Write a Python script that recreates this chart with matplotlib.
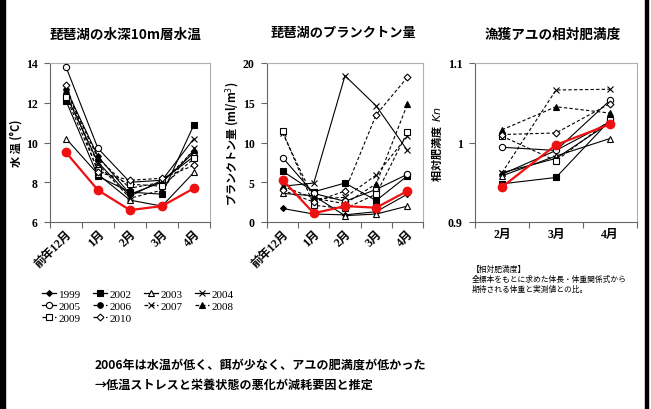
import matplotlib.pyplot as plt
from matplotlib.lines import Line2D
from matplotlib.patches import Rectangle

plt.rcParams['font.family'] = ['Noto Sans CJK JP', 'DejaVu Sans']

SERIF = ['Liberation Serif', 'Noto Sans CJK JP']
GOTHIC = ['Noto Sans CJK JP', 'DejaVu Sans']

years = ['1999', '2002', '2003', '2004', '2005', '2006', '2007', '2008', '2009', '2010']

months_temp = ['前年12月', '1月', '2月', '3月', '4月']
months_kn = ['2月', '3月', '4月']

# water temperature at 10 m depth (deg C)
temp = {
    '1999': [12.7, 9.3, 7.4, 8.0, 9.5],
    '2002': [12.1, 8.3, 7.5, 7.4, 10.9],
    '2003': [10.2, 8.4, 7.1, 6.8, 8.5],
    '2004': [12.4, 9.0, 7.3, 8.1, 10.2],
    '2005': [13.8, 9.7, 8.0, 8.1, 9.3],
    '2006': [9.5, 7.6, 6.6, 6.8, 7.7],
    '2007': [12.5, 8.9, 7.2, 7.6, 9.7],
    '2008': [12.6, 9.2, 7.7, 8.0, 9.6],
    '2009': [12.3, 8.6, 7.9, 7.8, 9.2],
    '2010': [12.9, 8.5, 8.1, 8.2, 8.85],
}

# plankton volume (ml/m3)
plankton = {
    '1999': [1.7, 1.0, 0.9, 1.3, 3.5],
    '2002': [6.4, 3.8, 4.9, 2.7, 5.8],
    '2003': [3.6, 3.3, 0.8, 1.0, 2.0],
    '2004': [4.5, 4.9, 18.4, 14.6, 9.0],
    '2005': [8.1, 3.6, 2.6, 4.1, 6.0],
    '2006': [5.3, 1.1, 2.0, 1.8, 3.9],
    '2007': [11.2, 2.9, 3.1, 5.9, 10.8],
    '2008': [4.5, 3.0, 2.3, 4.8, 14.8],
    '2009': [11.4, 2.1, 1.7, 3.5, 11.3],
    '2010': [4.0, 2.5, 3.9, 13.5, 18.2],
}

# relative condition factor Kn of caught ayu
kn = {
    '1999': [0.960, 0.990, 1.026],
    '2002': [0.948, 0.956, 1.028],
    '2003': [0.958, 0.983, 1.005],
    '2004': [0.962, 0.980, 1.025],
    '2005': [0.994, 0.990, 1.053],
    '2006': [0.944, 0.997, 1.023],
    '2007': [0.962, 1.066, 1.067],
    '2008': [1.016, 1.045, 1.037],
    '2009': [1.008, 0.977, 1.028],
    '2010': [1.010, 1.012, 1.049],
}

# marker, filled?, line style, marker size
styles = {
    '1999': ('D', True, '-', 3.0),
    '2002': ('s', True, '-', 4.0),
    '2003': ('^', False, '-', 4.0),
    '2004': ('x', True, '-', 4.5),
    '2005': ('o', False, '-', 4.5),
    '2006': ('o', True, (0, (3, 2)), 4.0),
    '2007': ('x', True, (0, (3, 2)), 4.5),
    '2008': ('^', True, (0, (3, 2)), 4.0),
    '2009': ('s', False, (0, (3, 2)), 4.5),
    '2010': ('D', False, (0, (3, 2)), 3.5),
}


def draw_series(ax, data):
    for y in years:
        vals = data[y]
        xs = range(len(vals))
        if y == '2006':
            ax.plot(xs, vals, color='#ee1111', lw=1.6, marker='o', ms=6,
                    mfc='#ee1111', mec='#ee1111', zorder=5)
            continue
        m, filled, ls, ms = styles[y]
        ax.plot(xs, vals, color='black', lw=0.8, ls=ls, marker=m, ms=ms,
                mfc='black' if filled else 'white', mec='black', mew=0.8,
                zorder=3)


def style_axes(ax, n, labels, rotate):
    ax.set_xlim(-0.5, n - 0.5)
    ax.set_xticks([i - 0.5 for i in range(n + 1)])
    ax.set_xticklabels([])
    ax.set_xticks(range(n), minor=True)
    ax.set_xticklabels(labels, minor=True, family=SERIF, fontweight='bold',
                       fontsize=8.5)
    ax.tick_params(axis='x', which='minor', length=0, pad=4)
    ax.tick_params(axis='x', which='major', length=4, direction='out',
                   color='#666666')
    ax.tick_params(axis='y', length=4, direction='out', color='#666666',
                   pad=5)
    for lbl in ax.get_yticklabels():
        lbl.set_family(SERIF)
        lbl.set_fontweight('bold')
        lbl.set_fontsize(8.5)
    if rotate:
        for lbl in ax.get_xticklabels(minor=True):
            lbl.set_rotation(45)
            lbl.set_ha('right')
            lbl.set_rotation_mode('anchor')
    for side in ['left', 'bottom']:
        ax.spines[side].set_color('#666666')
    for side in ['top', 'right']:
        ax.spines[side].set_color('#b0b0b0')


fig = plt.figure(figsize=(6.51, 4.10), dpi=100)

bottom = 1 - 223 / 410
height = 159 / 410
ax1 = fig.add_axes([50 / 651, bottom, 160 / 651, height])
ax2 = fig.add_axes([267 / 651, bottom, 156 / 651, height])
ax3 = fig.add_axes([475 / 651, bottom, 162 / 651, height])

# water temperature
draw_series(ax1, temp)
ax1.set_ylim(6, 14)
ax1.set_yticks([6, 8, 10, 12, 14])
style_axes(ax1, 5, months_temp, True)
ax1.set_ylabel('水 温 (°C)', fontsize=8, fontweight='bold', labelpad=2)

# plankton
draw_series(ax2, plankton)
ax2.set_ylim(0, 20)
ax2.set_yticks([0, 5, 10, 15, 20])
style_axes(ax2, 5, months_temp, True)
ax2.set_ylabel('プランクトン量 (ml/m$^3$)', fontsize=8, fontweight='bold',
               labelpad=1)

# condition factor
draw_series(ax3, kn)
ax3.set_ylim(0.9, 1.1)
ax3.set_yticks([0.9, 1.0, 1.1])
ax3.set_yticklabels(['0.9', '1', '1.1'])
style_axes(ax3, 3, months_kn, False)
ax3.set_ylabel('相対肥満度  $Kn$', fontsize=8, fontweight='bold', labelpad=3)

fig.text(125 / 651, 1 - 35 / 410, '琵琶湖の水深10m層水温', ha='center',
         va='center', fontsize=9.8, fontweight='bold')
fig.text(343 / 651, 1 - 33 / 410, '琵琶湖のプランクトン量', ha='center',
         va='center', fontsize=9.5, fontweight='bold')
fig.text(553 / 651, 1 - 35 / 410, '漁獲アユの相対肥満度', ha='center',
         va='center', fontsize=9.8, fontweight='bold')

# legend (shared by the three panels)
handles = {}
for y in years:
    m, filled, ls, ms = styles[y]
    handles[y] = Line2D([], [], color='black', lw=0.9, ls=ls, marker=m,
                        ms=ms, mfc='black' if filled else 'white',
                        mec='black', mew=0.8)
order = ['1999', '2005', '2009', '2002', '2006', '2010', '2003', '2007',
         '2004', '2008']
fig.legend([handles[y] for y in order], order, loc='upper left',
           bbox_to_anchor=(42 / 651, 1 - 290 / 410), ncol=4, frameon=False,
           prop={'family': SERIF, 'size': 8}, handlelength=1.3,
           handletextpad=0.2, columnspacing=1.1, labelspacing=0.2,
           borderaxespad=0, borderpad=0)

# footnote
notes = ['【相対肥満度】', '全標本をもとに求めた体長・体重関係式から',
         '期待される体重と実測値との比。']
for i, line in enumerate(notes):
    fig.text(472 / 651, 1 - (270 + 10 * i) / 410, line, ha='left',
             va='center', fontsize=5.6)

# conclusion
fig.text(95 / 651, 1 - 365 / 410,
         '2006年は水温が低く、餌が少なく、アユの肥満度が低かった',
         ha='left', va='center', fontsize=8.7, fontweight='bold')
fig.text(95 / 651, 1 - 385 / 410,
         '→低温ストレスと栄養状態の悪化が減耗要因と推定',
         ha='left', va='center', fontsize=8.7, fontweight='bold')

# slide frame edges
fig.patches.append(Rectangle((0, 0), 5 / 651, 1, transform=fig.transFigure,
                             color='black', zorder=0))
fig.patches.append(Rectangle((645 / 651, 0), 3 / 651, 1,
                             transform=fig.transFigure, color='black',
                             zorder=0))

fig.savefig('out.png', dpi=100)
